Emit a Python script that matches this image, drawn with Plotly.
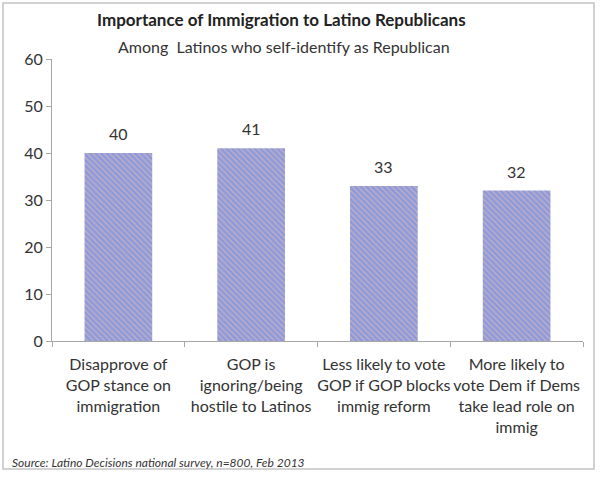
import plotly.graph_objects as go

# Chart data
categories = [
    "Disapprove of<br>GOP stance on<br>immigration",
    "GOP is<br>ignoring/being<br>hostile to Latinos",
    "Less likely to vote<br>GOP if GOP blocks<br>immig reform",
    "More likely to<br>vote Dem if Dems<br>take lead role on<br>immig",
]
values = [40, 41, 33, 32]
y_ticks = [0, 10, 20, 30, 40, 50, 60]

title = "<b>Importance of Immigration to Latino Republicans</b>"
subtitle = "Among  Latinos who self-identify as Republican"
source = "<i>Source: Latino Decisions national survey, n=800, Feb 2013</i>"

W, H = 600, 477
L, R, T, B = 52, 17, 59, 136
plot_w, plot_h = W - L - R, H - T - B


def px_x(px):
    return (px - L) / plot_w


def px_y(py):
    return (H - B - py) / plot_h


font = "Lato, 'Open Sans', sans-serif"

fig = go.Figure(go.Bar(
    x=categories, y=values, width=0.51,
    marker=dict(
        color="#c0aec8",
        line=dict(width=0),
        pattern=dict(shape="\\", fgcolor="#5a86ea", bgcolor="#c0aec8",
                     size=4, solidity=0.65),
    ),
    hoverinfo="skip",
))

# Value labels above the bars
for cat, val in zip(categories, values):
    fig.add_annotation(x=cat, y=val, text=str(val), showarrow=False,
                       yanchor="bottom", yshift=8,
                       font=dict(family=font, size=16, color="#333333"))

fig.add_annotation(xref="paper", yref="paper", x=px_x(281), y=px_y(20),
                   text=title, showarrow=False, xanchor="center",
                   yanchor="middle",
                   font=dict(family=font, size=17, color="#222222"))
fig.add_annotation(xref="paper", yref="paper", x=px_x(284), y=px_y(47),
                   text=subtitle, showarrow=False, xanchor="center",
                   yanchor="middle",
                   font=dict(family=font, size=16, color="#333333"))
fig.add_annotation(xref="paper", yref="paper", x=px_x(10), y=px_y(462),
                   text=source, showarrow=False, xanchor="left",
                   yanchor="middle",
                   font=dict(family=font, size=12, color="#333333"))

# Outer frame
fig.add_shape(type="rect", xref="paper", yref="paper",
              x0=px_x(3), x1=px_x(594), y0=px_y(469), y1=px_y(3),
              line=dict(color="#c4c4c4", width=1.5))

fig.update_layout(
    width=W, height=H,
    margin=dict(l=L, r=R, t=T, b=B),
    paper_bgcolor="white", plot_bgcolor="white",
    showlegend=False,
    font=dict(family=font, size=16, color="#333333"),
)
fig.update_xaxes(
    showline=True, linecolor="#a6a6a6", linewidth=1.2,
    ticks="outside", ticklen=5, tickcolor="#a6a6a6", tickson="boundaries",
    showgrid=False, tickfont=dict(size=16), tickangle=0, automargin=False,
    ticklabelstandoff=9,
)
fig.update_yaxes(
    range=[0, 60], tickvals=y_ticks,
    showline=True, linecolor="#a6a6a6", linewidth=1.2,
    ticks="outside", ticklen=5, tickcolor="#a6a6a6", automargin=False,
    showgrid=False, zeroline=False, tickfont=dict(size=16),
)

fig.write_html("out.html", config={"displayModeBar": False},
               post_script="document.body.style.margin='0';")
